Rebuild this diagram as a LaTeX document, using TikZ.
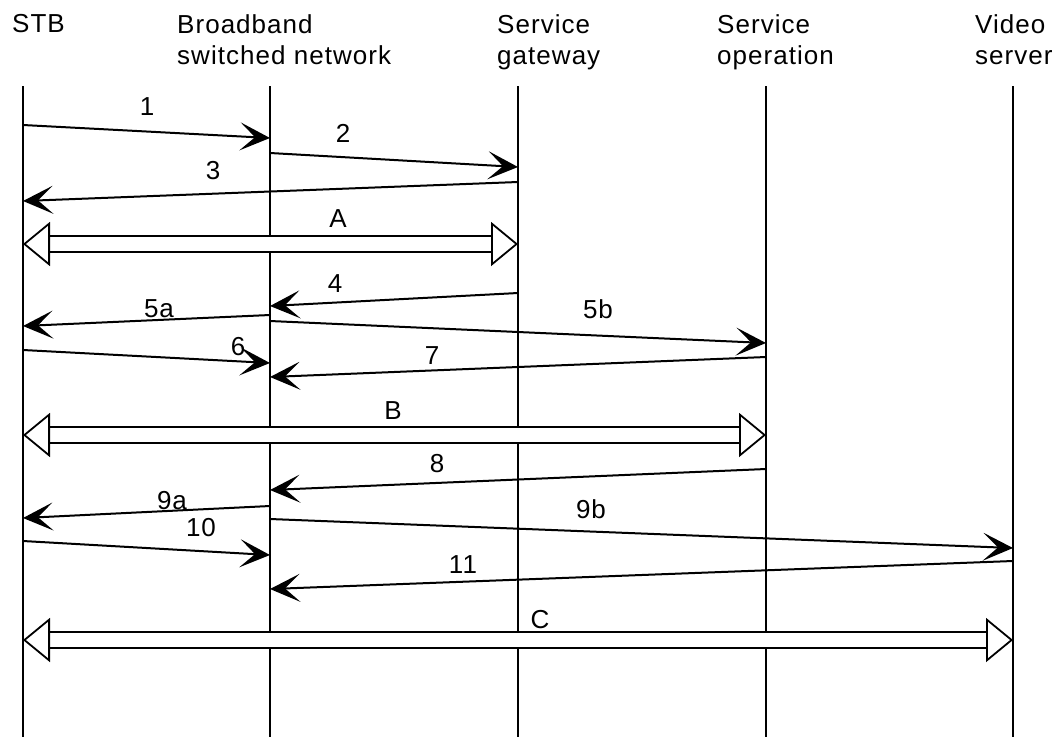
\documentclass[tikz,border=0pt]{standalone}
\usepackage{fontspec}
\setmainfont{Liberation Sans}[LetterSpace=4]
\usetikzlibrary{arrows.meta}
\newcommand{\msgfont}{\fontsize{26}{31}\selectfont}

\begin{document}
\begin{tikzpicture}[x=1pt, y=-1pt,
  life/.style={line width=1.8pt},
  msg/.style={line width=2pt, -{Stealth[length=30pt, width=28pt, inset=15pt]}},
  dialog/.style={line width=1.8pt, double distance=13.5pt,
    {Triangle[open, length=27pt, width=44pt, line width=1.8pt]}-{Triangle[open, length=27pt, width=44pt, line width=1.8pt]}},
  head/.style={anchor=north west, align=left, inner sep=0pt, font=\msgfont},
  lbl/.style={inner sep=0pt, font=\msgfont}]
  \useasboundingbox (0,0) rectangle (1064,737);

  % lifelines
  \foreach \n/\x in {stb/23, bsn/270, sgw/518, sop/766, vsv/1013}
    \coordinate (\n) at (\x,0);
  \foreach \n in {stb, bsn, sgw, sop, vsv}
    \draw[life] ([yshift=-86pt]\n) -- ([yshift=-737pt]\n);

  \node[head] (stb-h) at (12,14) {STB};
  \node[head] (bsn-h) at (177,14) {Broadband\\switched network};
  \node[head] (sgw-h) at (497,14) {Service\\gateway};
  \node[head] (sop-h) at (717,14) {Service\\operation};
  \node[head] (vsv-h) at (975,14) {Video\\server};

  % session setup with the service gateway
  \draw[msg] ([yshift=-125pt]stb) -- ([yshift=-138pt]bsn);
  \draw[msg] ([yshift=-153pt]bsn) -- ([yshift=-167pt]sgw);
  \draw[msg] ([yshift=-182pt]sgw) -- ([yshift=-201pt]stb);
  \draw[dialog] ([yshift=-244pt]stb) -- ([yshift=-244pt]sgw);
  \node[lbl] (l1) at (147,107) {1};
  \node[lbl] (l2) at (343,133) {2};
  \node[lbl] (l3) at (213,171) {3};
  \node[lbl] (lA) at (338,219) {A};

  % service operation
  \draw[msg] ([yshift=-293pt]sgw) -- ([yshift=-306pt]bsn);
  \draw[msg] ([yshift=-315pt]bsn) -- ([yshift=-326pt]stb);
  \draw[msg] ([yshift=-321pt]bsn) -- ([yshift=-343pt]sop);
  \draw[msg] ([yshift=-350pt]stb) -- ([yshift=-363pt]bsn);
  \draw[msg] ([yshift=-357pt]sop) -- ([yshift=-377pt]bsn);
  \draw[dialog] ([yshift=-435pt]stb) -- ([yshift=-435pt]sop);
  \node[lbl] (l4) at (335,284) {4};
  \node[lbl] (l5a) at (159,309) {5a};
  \node[lbl] (l5b) at (598,309) {5b};
  \node[lbl] (l6) at (238,347) {6};
  \node[lbl] (l7) at (432,356) {7};
  \node[lbl] (lB) at (393,411) {B};

  % video server
  \draw[msg] ([yshift=-469pt]sop) -- ([yshift=-490pt]bsn);
  \draw[msg] ([yshift=-506pt]bsn) -- ([yshift=-518pt]stb);
  \draw[msg] ([yshift=-519pt]bsn) -- ([yshift=-548pt]vsv);
  \draw[msg] ([yshift=-541pt]stb) -- ([yshift=-555pt]bsn);
  \draw[msg] ([yshift=-561pt]vsv) -- ([yshift=-589pt]bsn);
  \draw[dialog] ([yshift=-640pt]stb) -- ([yshift=-640pt]vsv);
  \node[lbl] (l8) at (437,464) {8};
  \node[lbl] (l9a) at (172,501) {9a};
  \node[lbl] (l9b) at (591,509) {9b};
  \node[lbl] (l10) at (201,528) {10};
  \node[lbl] (l11) at (463,565) {11};
  \node[lbl] (lC) at (540,620) {C};
\end{tikzpicture}
\end{document}
